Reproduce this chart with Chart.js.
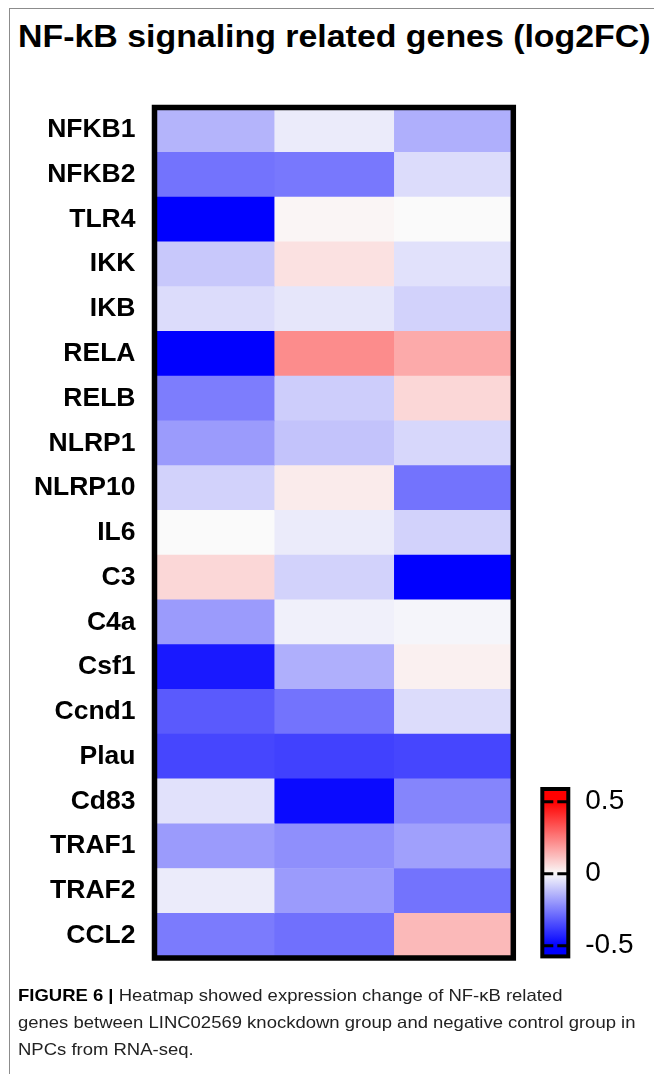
<!DOCTYPE html>
<html>
<head>
<meta charset="utf-8">
<script src="https://cdn.jsdelivr.net/npm/chart.js@4/dist/chart.umd.min.js"></script>
<style>
  html, body { margin: 0; padding: 0; background: #fff; }
  body { width: 654px; height: 1074px; position: relative; overflow: hidden;
         font-family: "Liberation Sans", Arial, Helvetica, sans-serif; }
  #frameTop { position: absolute; left: 9px; top: 8px; width: 645px; height: 0; border-top: 1px solid #8c8c8c; }
  #frameLeft { position: absolute; left: 9px; top: 8px; width: 0; height: 1066px; border-left: 1px solid #8c8c8c; }
  #title { position: absolute; left: 18px; top: 17px; font-weight: bold; font-size: 31px; line-height: 40px;
           white-space: nowrap; transform: scaleX(1.093); transform-origin: 0 0; color: #000; }
  #caption { position: absolute; left: 18px; top: 982px; font-size: 16.5px; line-height: 27px;
             white-space: nowrap; transform: scaleX(1.12); transform-origin: 0 0; color: #222; }
  #caption b { color: #000; }
  canvas { position: absolute; left: 0; top: 0; }
</style>
</head>
<body>
<div id="frameTop"></div>
<div id="frameLeft"></div>
<div id="title">NF-kB signaling related genes (log2FC)</div>
<canvas id="heat" width="654" height="1074"></canvas>
<canvas id="cbar" width="654" height="1074"></canvas>
<div id="caption"><b>FIGURE 6 |</b> Heatmap showed expression change of NF-κB related<br>genes between LINC02569 knockdown group and negative control group in<br>NPCs from RNA-seq.</div>
<script>
// ---- data ----
const genes = ['NFKB1','NFKB2','TLR4','IKK','IKB','RELA','RELB','NLRP1','NLRP10','IL6',
               'C3','C4a','Csf1','Ccnd1','Plau','Cd83','TRAF1','TRAF2','CCL2'];
const groups = ['Sample 1','Sample 2','Sample 3'];
const group1 = [-0.14,-0.27,-0.52,-0.10,-0.06,-0.52,-0.25,-0.19,-0.08, 0.00, 0.07,-0.19,-0.45,-0.32,-0.36,-0.05,-0.19,-0.03,-0.255];
const group2 = [-0.03,-0.26, 0.01, 0.05,-0.04, 0.22,-0.09,-0.11, 0.03,-0.03,-0.08,-0.02,-0.15,-0.27,-0.37,-0.48,-0.215,-0.19,-0.275];
const group3 = [-0.15,-0.06, 0.00,-0.05,-0.08, 0.16, 0.07,-0.07,-0.27,-0.08,-0.52,-0.01, 0.02,-0.06,-0.36,-0.235,-0.18,-0.27, 0.13];
const colorbarTicks = [-0.5, 0, 0.5];
const colorbarMin = -0.574, colorbarMax = 0.588;
const colorLimit = 0.5;

const FONT = '"Liberation Sans", Arial, Helvetica, sans-serif';

function valueColor(v) {
  const t = Math.max(-1, Math.min(1, v / colorLimit));
  const c = 250;
  if (t < 0) {
    const a = -t, rg = Math.round(c * (1 - a));
    return `rgb(${rg},${rg},${Math.round(c + (255 - c) * a)})`;
  }
  const a = t, gb = Math.round(c * (1 - a));
  return `rgb(${Math.round(c + (255 - c) * a)},${gb},${gb})`;
}

const boxBorder = {
  id: 'boxBorder',
  afterDatasetsDraw(chart, args, opts) {
    const { ctx, chartArea: a } = chart;
    ctx.save();
    if (opts.ticks) {
      const y = chart.scales.y;
      ctx.strokeStyle = '#000';
      ctx.lineWidth = 3;
      opts.ticks.forEach(v => {
        const py = y.getPixelForValue(v);
        ctx.beginPath();
        ctx.moveTo(a.left, py); ctx.lineTo(a.left + 11, py);
        ctx.moveTo(a.right - 11, py); ctx.lineTo(a.right, py);
        ctx.stroke();
      });
    }
    ctx.lineWidth = opts.width;
    ctx.strokeStyle = '#000';
    ctx.strokeRect(a.left, a.top, a.right - a.left, a.bottom - a.top);
    ctx.restore();
  }
};

// ---- heatmap ----
const columns = [group1, group2, group3];
new Chart(document.getElementById('heat'), {
  type: 'bar',
  data: {
    labels: genes,
    datasets: columns.map((vals, c) => ({
      label: groups[c],
      data: vals.map(() => [c - 0.5, c + 0.5]),
      backgroundColor: vals.map(valueColor),
      borderWidth: 0,
      barPercentage: 1,
      categoryPercentage: 1,
      grouped: false
    }))
  },
  options: {
    indexAxis: 'y',
    responsive: false,
    animation: false,
    layout: { padding: { top: 107.5, bottom: 1074 - 958, left: 0, right: 654 - 513.3 } },
    plugins: { legend: { display: false }, tooltip: { enabled: false }, boxBorder: { width: 5.5 } },
    scales: {
      x: { type: 'linear', min: -0.5, max: 2.5, display: false },
      y: {
        type: 'category', offset: true,
        grid: { display: false, drawTicks: false },
        border: { display: false },
        ticks: { color: '#000', autoSkip: false, padding: 19,
                 font: { family: FONT, size: 26.5, weight: 'bold' } },
        afterFit(scale) { scale.width = 154.5; }
      }
    }
  },
  plugins: [boxBorder]
});

// ---- colour bar ----
new Chart(document.getElementById('cbar'), {
  type: 'bar',
  data: {
    labels: ['log2FC'],
    datasets: [{
      data: [[colorbarMin, colorbarMax]],
      borderWidth: 0,
      barPercentage: 1,
      categoryPercentage: 1,
      backgroundColor(ctx) {
        const chart = ctx.chart;
        if (!chart.chartArea) return valueColor(0);
        const y = chart.scales.y;
        const y0 = y.getPixelForValue(colorbarMin), y1 = y.getPixelForValue(colorbarMax);
        const g = chart.ctx.createLinearGradient(0, y0, 0, y1);
        const n = 40;
        for (let i = 0; i <= n; i++) {
          const v = colorbarMin + (colorbarMax - colorbarMin) * i / n;
          g.addColorStop(i / n, valueColor(v));
        }
        return g;
      }
    }]
  },
  options: {
    responsive: false,
    animation: false,
    layout: { padding: { top: 789, bottom: 1074 - 956.4, left: 542.3, right: 0 } },
    plugins: { legend: { display: false }, tooltip: { enabled: false },
               boxBorder: { width: 4, ticks: colorbarTicks } },
    scales: {
      x: { display: false },
      y: {
        position: 'right', min: colorbarMin, max: colorbarMax,
        afterBuildTicks(scale) { scale.ticks = colorbarTicks.map(v => ({ value: v })); },
        grid: { display: false, drawTicks: false },
        border: { display: false },
        ticks: { color: '#000', padding: 17, font: { family: FONT, size: 28 },
                 callback: v => String(v) },
        afterFit(scale) { scale.width = 654 - 568.3; }
      }
    }
  },
  plugins: [boxBorder]
});
</script>
</body>
</html>
